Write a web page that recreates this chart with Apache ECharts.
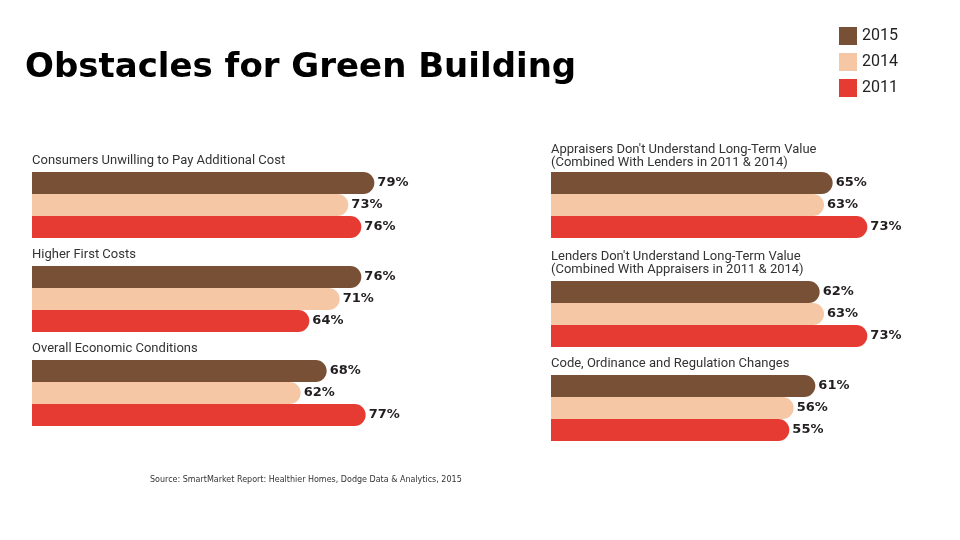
<!DOCTYPE html>
<html>
<head>
<meta charset="utf-8">
<script src="https://cdn.jsdelivr.net/npm/echarts@6/dist/echarts.min.js"></script>
<style>html,body{margin:0;padding:0;background:#fff}#c{width:960px;height:540px}</style>
</head>
<body>
<div id="c"></div>
<script>
// ---- data ----
const titleText = 'Obstacles for Green Building';
const sourceText = 'Source: SmartMarket Report: Healthier Homes, Dodge Data & Analytics, 2015';
const years = ['2015', '2014', '2011'];
const categories = [
  'Consumers Unwilling to Pay Additional Cost',
  'Higher First Costs',
  'Overall Economic Conditions',
  "Appraisers Don't Understand Long-Term Value\n(Combined With Lenders in 2011 & 2014)",
  "Lenders Don't Understand Long-Term Value\n(Combined With Appraisers in 2011 & 2014)",
  'Code, Ordinance and Regulation Changes'
];
const values2015 = [79, 76, 68, 65, 62, 61];
const values2014 = [73, 71, 62, 63, 63, 56];
const values2011 = [76, 64, 77, 73, 73, 55];

// ---- layout / style ----
const colors = ['#775036', '#F6C7A5', '#E53B32'];
const gridLeft = [32, 32, 32, 551, 551, 551];
const gridTop = [172, 266, 360, 172, 281, 375];
const labelY = [161, 255, 349, 156, 263, 364];
const axisMax = 90;          // 90% spans 390 px (4.33 px per percent)
const gridWidth = 390;
const condensed = "Roboto,'Liberation Sans Narrow',sans-serif";
const seriesValues = [values2015, values2014, values2011];

const grids = [], xAxes = [], yAxes = [], series = [], graphics = [];
categories.forEach((cat, i) => {
  grids.push({ left: gridLeft[i], top: gridTop[i], width: gridWidth, height: 66 });
  xAxes.push({ type: 'value', gridIndex: i, min: 0, max: axisMax, show: false });
  yAxes.push({ type: 'category', gridIndex: i, data: [cat], inverse: true, show: false });
  years.forEach((y, k) => {
    series.push({
      type: 'bar', name: y, xAxisIndex: i, yAxisIndex: i,
      data: [seriesValues[k][i]],
      barWidth: 22, barGap: '0%',
      itemStyle: { color: colors[k], borderRadius: [0, 11, 11, 0] },
      label: {
        show: true, position: 'right', distance: 3, formatter: '{c}%',
        fontFamily: 'DejaVu Sans', fontWeight: 'bold', fontSize: 13, color: '#231F20'
      },
      silent: true, animation: false
    });
  });
  graphics.push({
    type: 'text', left: gridLeft[i], top: labelY[i] - (cat.indexOf('\n') >= 0 ? 13 : 6.5),
    style: { text: cat, fontFamily: condensed, fontSize: 13, fill: '#333', lineHeight: 13 }
  });
});

graphics.push({
  type: 'text', left: 150, top: 476,
  style: { text: sourceText, fontFamily: 'DejaVu Sans', fontSize: 8, fill: '#333' }
});

const chart = echarts.init(document.getElementById('c'), null, { renderer: 'canvas' });
chart.setOption({
  animation: false,
  title: {
    text: titleText, left: 20, top: 46,
    textStyle: { fontFamily: 'DejaVu Sans', fontWeight: 'bold', fontSize: 34, color: '#000' }
  },
  legend: {
    data: years, orient: 'vertical', left: 839, top: 27, padding: 0,
    itemWidth: 18, itemHeight: 18, itemGap: 8, icon: 'rect',
    textStyle: { fontFamily: condensed, fontSize: 16, color: '#222' },
    selectedMode: false
  },
  grid: grids, xAxis: xAxes, yAxis: yAxes, series: series,
  graphic: graphics
});
</script>
</body>
</html>
